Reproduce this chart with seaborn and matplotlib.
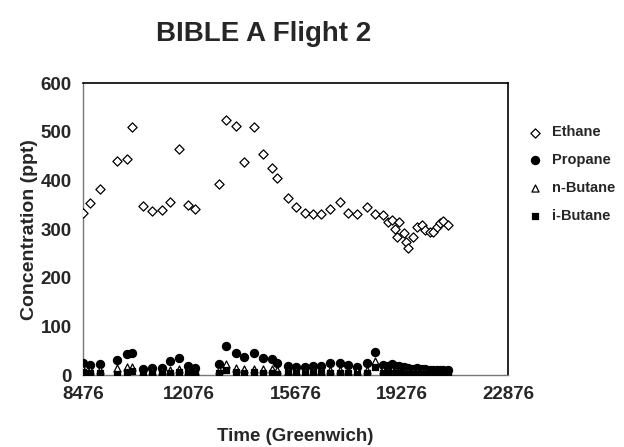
# Import pandas so we can hold the flight data in a table.
import pandas as pd

# Import matplotlib so we can create and save the chart.
import matplotlib
matplotlib.use("Agg")
import matplotlib.pyplot as plt

# Import seaborn so we can draw the scatter points.
import seaborn as sns


# -----------------------------
# Data
# -----------------------------

# Sample times in seconds (Greenwich).
time_s = [8486, 8713, 9052, 9617, 9956, 10126, 10520, 10824, 11142, 11424,
          11728, 12044, 12270, 13084, 13321, 13649, 13941, 14280, 14564, 14869,
          15038, 15411, 15682, 15998, 16278, 16540, 16845, 17184, 17465, 17771,
          18088, 18370, 18652, 18822, 18935, 19047, 19104, 19193, 19352, 19420,
          19498, 19668, 19781, 19950, 20075, 20232, 20345, 20458, 20571, 20683,
          20853]

# Ethane concentration (ppt).
ethane = [334, 354, 382, 440, 444, 509, 347, 337, 339, 356,
          464, 350, 341, 392, 524, 512, 437, 509, 455, 426,
          405, 364, 345, 334, 331, 331, 341, 356, 333, 332,
          346, 331, 329, 315, 318, 301, 283, 315, 292, 274,
          262, 284, 305, 308, 298, 294, 294, 305, 313, 317,
          308]

# Propane concentration (ppt).
propane = [24, 20, 22, 30, 43, 46, 12, 14, 15, 28,
           34, 19, 15, 23, 60, 46, 38, 46, 36, 33,
           24, 19, 16, 16, 18, 18, 24, 25, 20, 17,
           24, 48, 20, 18, 22, 19, 17, 18, 16, 15,
           14, 13, 14, 12, 12, 11, 11, 10, 10, 10,
           11]

# n-Butane concentration (ppt).
n_butane = [12, 10, 11, 14, 17, 17, 7, 8, 9, 10,
            12, 9, 8, 10, 22, 14, 12, 13, 12, 12,
            10, 8, 8, 7, 8, 9, 10, 11, 9, 8,
            11, 28, 10, 9, 10, 9, 8, 8, 7, 7,
            6, 6, 7, 6, 6, 5, 5, 5, 5, 5,
            5]

# i-Butane concentration (ppt).
i_butane = [6, 5, 5, 3, 7, 8, 4, 5, 5, 4,
            6, 5, 4, 5, 10, 6, 5, 6, 5, 5,
            2, 4, 4, 3, 4, 4, 5, 5, 4, 3,
            5, 16, 5, 4, 5, 4, 4, 4, 3, 3,
            3, 3, 3, 3, 3, 3, 2, 2, 2, 2,
            2]

# Axis tick positions.
x_ticks = [8476, 12076, 15676, 19276, 22876]
y_ticks = [0, 100, 200, 300, 400, 500, 600]


# Build one table with a column per gas.
df = pd.DataFrame({
    "Time": time_s,
    "Ethane": ethane,
    "Propane": propane,
    "n-Butane": n_butane,
    "i-Butane": i_butane,
})

# Use a plain white style and an Arial-like bold font.
sns.set_style("white")
plt.rcParams["font.family"] = ["Liberation Sans", "DejaVu Sans"]
plt.rcParams["font.weight"] = "bold"

# Create the figure at the reference size.
fig = plt.figure(figsize=(6.24, 4.47), dpi=100)
ax = fig.add_axes([0.133, 0.161, 0.681, 0.653])

# Marker style for each gas: (marker, face colour, size).
styles = {
    "Ethane": ("D", "white", 22),
    "Propane": ("o", "black", 34),
    "n-Butane": ("^", "white", 26),
    "i-Butane": ("s", "black", 18),
}

# Draw each gas as its own scatter series.
for gas, (marker, face, size) in styles.items():
    sns.scatterplot(
        data=df,
        x="Time",
        y=gas,
        marker=marker,
        s=size,
        facecolor=face,
        edgecolor="black",
        linewidth=0.9,
        label=gas,
        ax=ax,
        zorder=3,
    )

# Set the axis ranges and ticks.
ax.set_xlim(8476, 22876)
ax.set_ylim(0, 600)
ax.set_xticks(x_ticks)
ax.set_yticks(y_ticks)
ax.tick_params(axis="both", direction="in", length=3, labelsize=13.5, pad=8)

# Style the frame: grey left/bottom, black top/right.
for side in ["left", "bottom"]:
    ax.spines[side].set_color("#777777")
    ax.spines[side].set_linewidth(1.0)
for side in ["top", "right"]:
    ax.spines[side].set_color("black")
    ax.spines[side].set_linewidth(1.2)

# Add the axis labels.
ax.set_xlabel("Time (Greenwich)", fontsize=13.5, fontweight="bold", labelpad=18)
ax.set_ylabel("Concentration (ppt)", fontsize=14, fontweight="bold", labelpad=2)

# Add the chart title.
fig.text(0.422, 0.925, "BIBLE A Flight 2", ha="center", va="center",
         fontsize=20, fontweight="bold")

# Put the legend to the right of the plot.
ax.legend(
    loc="upper left",
    bbox_to_anchor=(1.015, 0.875),
    frameon=False,
    fontsize=10.5,
    labelspacing=0.95,
    handletextpad=0.2,
    borderaxespad=0,
)

# Save the chart as a PNG image.
plt.savefig("out.png", dpi=100)

# Close the chart.
plt.close()
